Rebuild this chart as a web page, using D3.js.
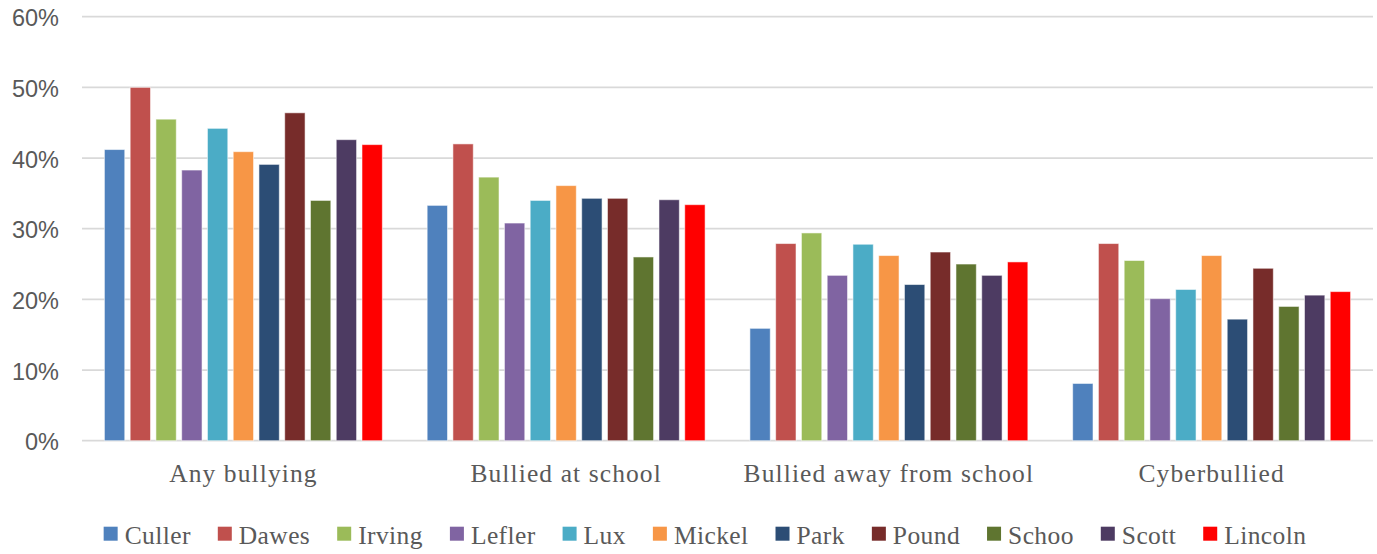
<!DOCTYPE html>
<html>
<head>
<meta charset="utf-8">
<script src="https://cdn.jsdelivr.net/npm/d3@7"></script>
<style>
  html, body { margin: 0; padding: 0; background: #fff; }
  svg { display: block; }
</style>
</head>
<body>
<svg id="chart" width="1377" height="554"></svg>
<script>
// Share of students reporting each kind of bullying, by school
const categories = ["Any bullying", "Bullied at school", "Bullied away from school", "Cyberbullied"];
const schools = ["Culler", "Dawes", "Irving", "Lefler", "Lux", "Mickel", "Park", "Pound", "Schoo", "Scott", "Lincoln"];
const colors = ["#4F81BD", "#C0504D", "#9BBB59", "#8064A2", "#4BACC6", "#F79646", "#2C4D75", "#772C2A", "#5F7530", "#4D3B62", "#FF0000"];

// percent values per school, one entry per category
const culler  = [41.2, 33.3, 15.9,  8.1];
const dawes   = [50.0, 42.0, 27.9, 27.9];
const irving  = [45.5, 37.3, 29.4, 25.5];
const lefler  = [38.3, 30.8, 23.4, 20.1];
const lux     = [44.2, 34.0, 27.8, 21.4];
const mickel  = [40.9, 36.1, 26.2, 26.2];
const park    = [39.1, 34.3, 22.1, 17.2];
const pound   = [46.4, 34.3, 26.7, 24.4];
const schoo   = [34.0, 26.0, 25.0, 19.0];
const scott   = [42.6, 34.1, 23.4, 20.6];
const lincoln = [41.9, 33.4, 25.3, 21.1];

const yTicks = [0, 10, 20, 30, 40, 50, 60];

const seriesValues = [culler, dawes, irving, lefler, lux, mickel, park, pound, schoo, scott, lincoln];
const rows = [];
categories.forEach((c, ci) => {
  schools.forEach((s, si) => rows.push({ category: c, school: s, value: seriesValues[si][ci] }));
});

const svg = d3.select("#chart");
const plot = { left: 82, right: 1373, top: 16.7, bottom: 440.7 };

const y = d3.scaleLinear().domain([0, 60]).range([plot.bottom, plot.top]);
const x0 = d3.scaleBand().domain(categories).range([plot.left, plot.right]).padding(0);
const x1 = d3.scaleBand().domain(schools).range([0, x0.bandwidth()])
  .paddingInner(0.21).paddingOuter(0.87);
const color = d3.scaleOrdinal().domain(schools).range(colors);

// horizontal gridlines
svg.append("g")
  .selectAll("line")
  .data(yTicks)
  .join("line")
  .attr("x1", plot.left).attr("x2", plot.right)
  .attr("y1", d => y(d)).attr("y2", d => y(d))
  .attr("stroke", "#d9d9d9")
  .attr("stroke-width", 1.8);

// y axis labels
const yAxis = d3.axisLeft(y).tickValues(yTicks).tickFormat(d => d + "%").tickSize(0).tickPadding(0);
const yg = svg.append("g").attr("transform", "translate(59,1.5)").call(yAxis);
yg.select(".domain").remove();
yg.selectAll("text")
  .attr("font-family", "'Liberation Sans', Arial, sans-serif")
  .attr("font-size", 23.5)
  .attr("fill", "#595959");

// bars
svg.append("g")
  .selectAll("rect")
  .data(rows)
  .join("rect")
  .attr("x", d => x0(d.category) + x1(d.school))
  .attr("y", d => y(d.value))
  .attr("width", x1.bandwidth())
  .attr("height", d => y(0) - y(d.value))
  .attr("fill", d => color(d.school))
  .attr("stroke", "rgba(255,255,255,0.55)")
  .attr("stroke-width", 1);

// category labels
const xAxis = d3.axisBottom(x0).tickSize(0).tickPadding(0);
const xg = svg.append("g").attr("transform", "translate(0,482)").call(xAxis);
xg.select(".domain").remove();
xg.selectAll("text")
  .attr("dy", 0)
  .attr("font-family", "'Liberation Serif', 'Times New Roman', serif")
  .attr("font-size", 25.5)
  .attr("letter-spacing", 1.1)
  .attr("fill", "#595959");

// legend
const legend = svg.append("g");
const items = legend.selectAll("g")
  .data(schools)
  .join("g");
items.append("rect")
  .attr("width", 14).attr("height", 14)
  .attr("y", 526.7)
  .attr("fill", d => color(d));
items.append("text")
  .attr("x", 21)
  .attr("y", 544.3)
  .attr("font-family", "'Liberation Serif', 'Times New Roman', serif")
  .attr("font-size", 25.5)
  .attr("letter-spacing", 0.4)
  .attr("fill", "#595959")
  .text(d => d);

const widths = [];
items.each(function () { widths.push(21 + this.querySelector("text").getComputedTextLength()); });
const gap = 27;
const total = d3.sum(widths) + gap * (widths.length - 1);
let cx = 705 - total / 2;
items.attr("transform", (d, i) => {
  const t = `translate(${cx},0)`;
  cx += widths[i] + gap;
  return t;
});
</script>
</body>
</html>
